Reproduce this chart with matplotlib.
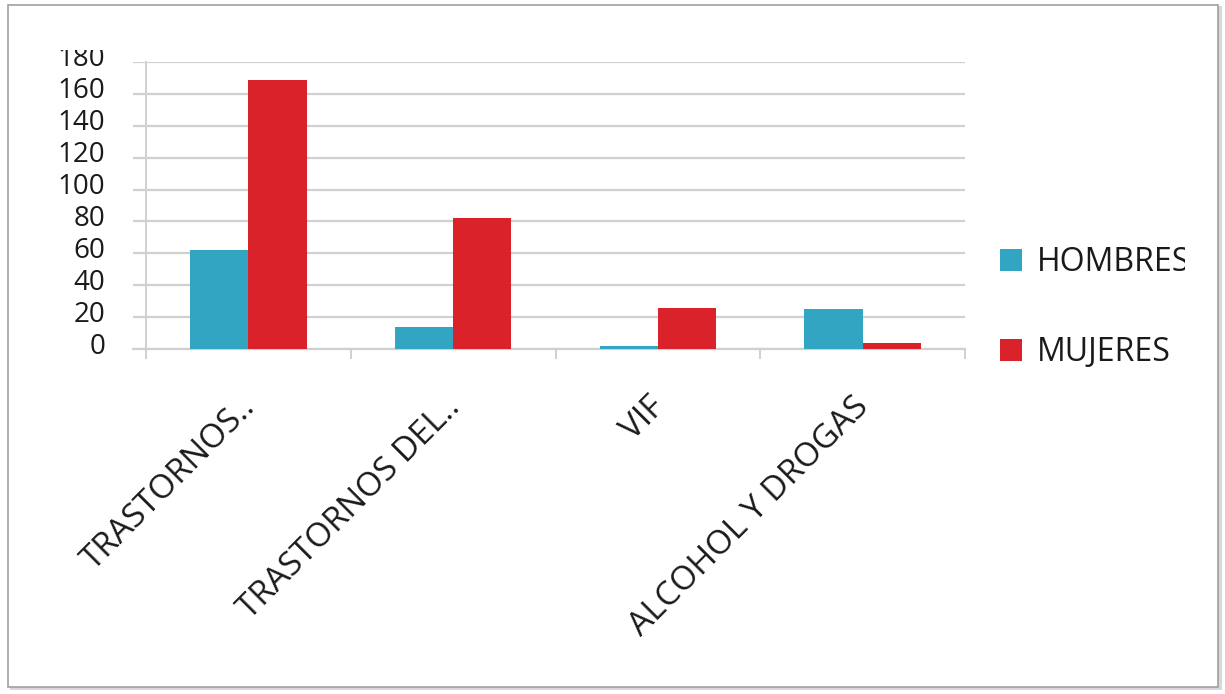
import matplotlib.pyplot as plt
import matplotlib.patches as patches
import matplotlib.transforms as mtransforms
import numpy as np

categories = ['TRASTORNOS..', 'TRASTORNOS DEL..', 'VIF', 'ALCOHOL Y DROGAS']
hombres = [62, 14, 2, 25]
mujeres = [169, 82, 26, 4]
yticks = [0, 20, 40, 60, 80, 100, 120, 140, 160, 180]

plt.rcParams['font.family'] = ['Open Sans', 'DejaVu Sans']

W, H = 1225, 694
fig = plt.figure(figsize=(W / 100, H / 100), dpi=100)

# outer frame with a light shadow
fig.patches.append(patches.Rectangle((10 / W, 1 - 690 / H), 1212 / W, 684 / H,
                                     transform=fig.transFigure, facecolor='#d8d8d8',
                                     edgecolor='none', zorder=-3))
fig.patches.append(patches.Rectangle((8 / W, 1 - 687 / H), 1210 / W, 682 / H,
                                     transform=fig.transFigure, facecolor='white',
                                     edgecolor='#a0a0a0', linewidth=1.2, zorder=-2))

left_px, right_px, top_px, zero_px = 133, 965, 62, 349
ax = fig.add_axes([left_px / W, 1 - zero_px / H, (right_px - left_px) / W, (zero_px - top_px) / H])
ax.patch.set_alpha(0)

x = np.arange(len(categories))
w = 0.285
c_h = '#31a5c2'
c_m = '#da222b'
ax.bar(x - w / 2, hombres, w, color=c_h, label='HOMBRES', zorder=3)
ax.bar(x + w / 2, mujeres, w, color=c_m, label='MUJERES', zorder=3)

cat_px = (right_px - 146) / len(categories)
ax.set_xlim(-0.5 - 13 / cat_px, len(categories) - 0.5)
ax.set_ylim(0, 180)

grid_c = '#d0d0d0'
ax.set_yticks(yticks)
ax.yaxis.grid(True, color=grid_c, linewidth=1.6, zorder=0)
ax.tick_params(axis='y', length=0, pad=20, labelsize=20, labelcolor='#1a1a1a')

ax.set_xticks(x)
ax.set_xticklabels(categories, rotation=45, ha='right', rotation_mode='anchor',
                   fontsize=24, color='#1a1a1a')
ax.tick_params(axis='x', which='major', length=0, pad=30)
ax.set_xticks(np.arange(len(categories) + 1) - 0.5, minor=True)
ax.tick_params(axis='x', which='minor', length=7, width=1.4, color=grid_c, direction='out')

for s in ['top', 'right', 'left']:
    ax.spines[s].set_visible(False)
ax.spines['bottom'].set_color(grid_c)
ax.spines['bottom'].set_linewidth(1.6)
ax.axvline(-0.5, ymin=-9 / 287, ymax=1, color=grid_c, linewidth=1.4, clip_on=False, zorder=2)

# small nudges so labels sit where the original has them
x_shift = mtransforms.ScaledTranslation(-10 / 100, 0, fig.dpi_scale_trans)
for lbl in ax.get_xticklabels():
    lbl.set_transform(lbl.get_transform() + x_shift)
y_shift = mtransforms.ScaledTranslation(0, 6 / 100, fig.dpi_scale_trans)
# the top label is cut by the chart area in the original
clip_top = patches.Rectangle((0, 0), 1, 1 - 50 / H, transform=fig.transFigure)
for lbl in ax.get_yticklabels():
    lbl.set_transform(lbl.get_transform() + y_shift)
    lbl.set_clip_path(clip_top)

leg = ax.legend(loc='upper left', bbox_to_anchor=(984 / W, 1 - 230 / H),
                bbox_transform=fig.transFigure, frameon=False, fontsize=23,
                handlelength=0.7, handleheight=0.7, handletextpad=0.45,
                labelspacing=1.8, borderpad=0)
clip_right = patches.Rectangle((0, 0), 1185 / W, 1, transform=fig.transFigure)
for t in leg.get_texts():
    t.set_color('#1a1a1a')
    t.set_clip_path(clip_right)

fig.savefig('out.png', dpi=100)
